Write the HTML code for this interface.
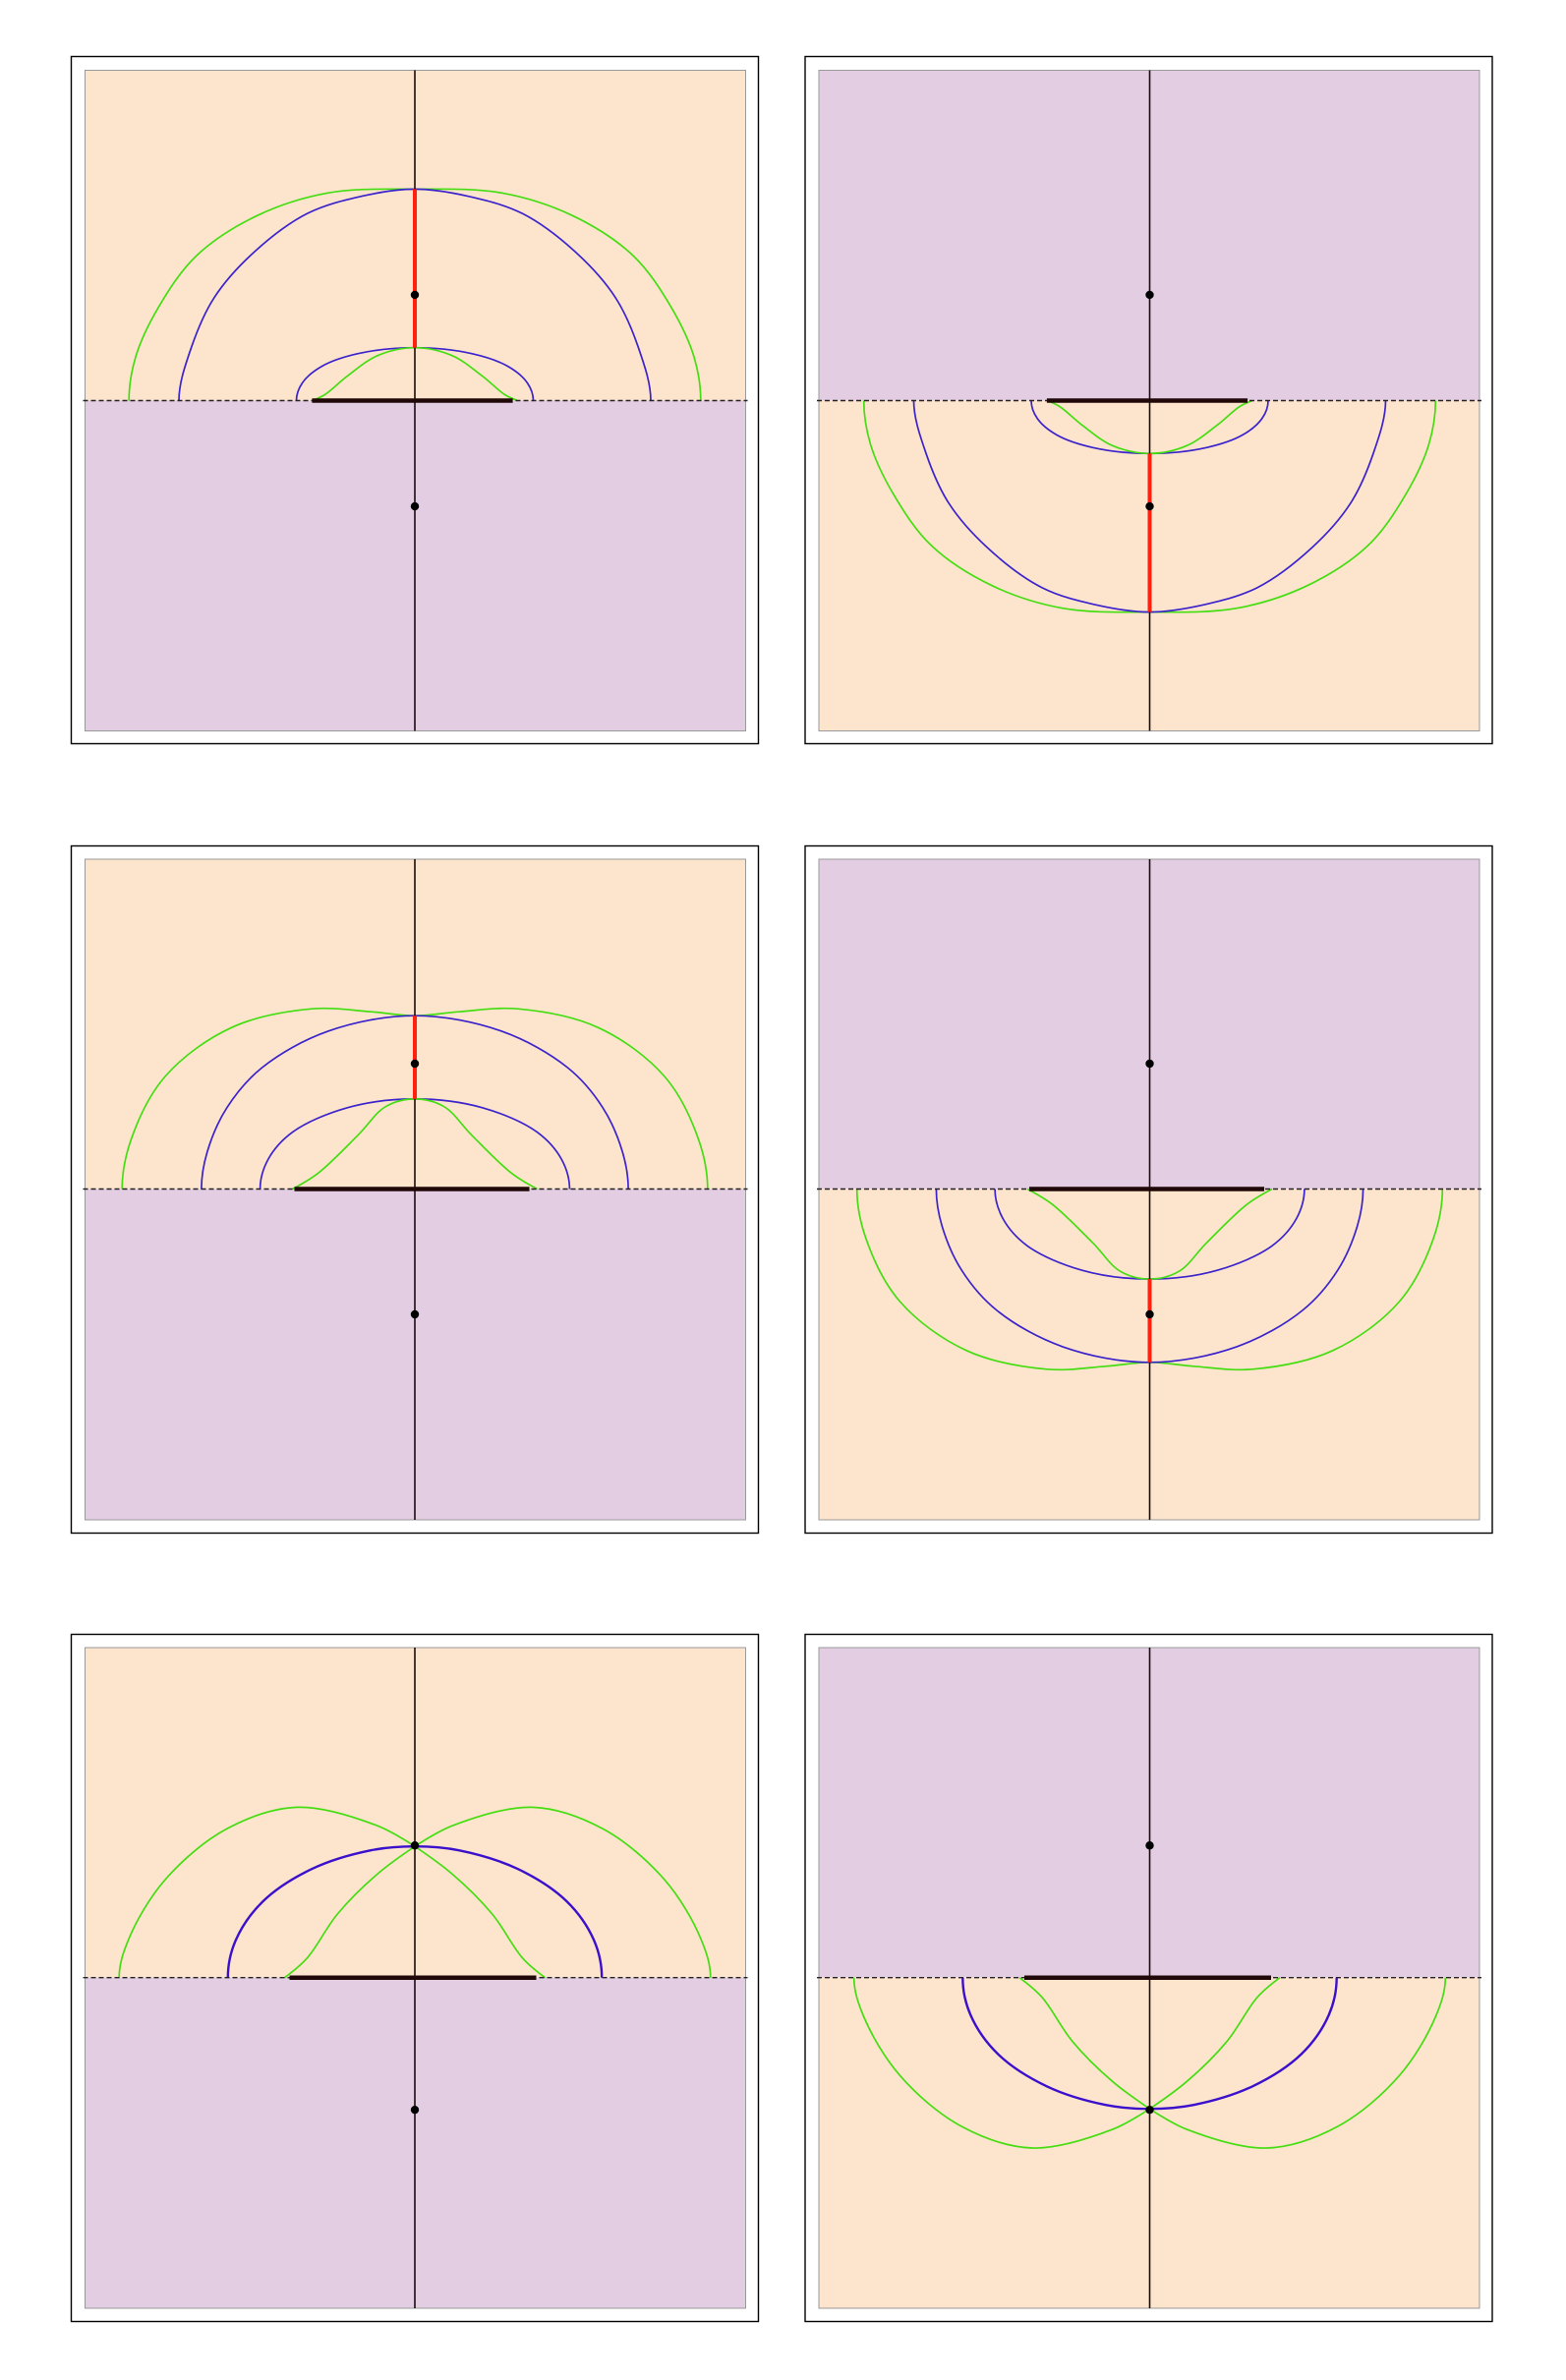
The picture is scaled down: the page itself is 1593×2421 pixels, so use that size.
<!DOCTYPE html>
<html><head><meta charset="utf-8"><title>Conformal map panels</title>
<style>
html,body{margin:0;padding:0;background:#fff;}
svg{display:block;font-family:"Liberation Sans",sans-serif;}
</style></head>
<body>
<svg id="fig" width="1593" height="2421" viewBox="0 0 1593 2421" xmlns="http://www.w3.org/2000/svg"></svg>
<script>
// Data (units: 1 unit ~ 100 px from panel center; half curves for x>=0, mirrored)
// Case A (row 1)
const aDot = 1.08;
const aRed = [0.54, 2.16];
const aSeg = [-1.05, 1.00];
const aOuterBlue = [[0,2.16],[0.53,2.09],[1.10,1.91],[1.66,1.50],[2.05,1.05],[2.28,0.55],[2.41,0]];
const aOuterGreen = [[0,2.16],[0.89,2.12],[1.61,1.89],[2.23,1.48],[2.62,0.95],[2.85,0.45],[2.92,0]];
const aInnerBlue = [[0,0.54],[0.58,0.48],[0.95,0.35],[1.15,0.18],[1.21,0]];
const aInnerGreen = [[0,0.54],[0.38,0.46],[0.69,0.25],[0.92,0.06],[1.05,0]];
// Case B (row 2)
const bDot = 1.28;
const bRed = [0.92, 1.77];
const bSeg = [-1.23, 1.17];
const bOuterBlue = [[0,1.77],[0.89,1.61],[1.56,1.24],[1.92,0.83],[2.12,0.38],[2.18,0]];
const bOuterGreen = [[0,1.77],[0.45,1.81],[1.05,1.84],[1.87,1.65],[2.55,1.15],[2.90,0.50],[2.99,0]];
const bInnerBlue = [[0,0.92],[0.69,0.83],[1.25,0.58],[1.50,0.30],[1.58,0]];
const bInnerGreen = [[0,0.92],[0.30,0.84],[0.58,0.55],[0.99,0.16],[1.25,0]];
// Case C (row 3)
const cDot = 1.35;
const cSeg = [-1.28, 1.24];
const cBlue = [[0,1.34],[0.45,1.30],[1.05,1.11],[1.55,0.78],[1.83,0.38],[1.91,0]];
const cOuterGreen = [[0,1.34],[0.38,1.55],[1.20,1.74],[1.92,1.52],[2.55,1.00],[2.92,0.40],[3.02,0]];
const cInnerGreen = [[0,1.34],[0.38,1.06],[0.79,0.65],[1.10,0.20],[1.33,0]];

const cases = {
  A:{dot:aDot, red:aRed, seg:aSeg, curves:[[aOuterGreen,'green',1,0],[aOuterBlue,'blue',1,0],[aInnerBlue,'blue',1,0],[aInnerGreen,'green',0,0]]},
  B:{dot:bDot, red:bRed, seg:bSeg, curves:[[bOuterGreen,'green',1,0],[bOuterBlue,'blue',1,0],[bInnerBlue,'blue',1,0],[bInnerGreen,'green',0,0]]},
  C:{dot:cDot, red:null, seg:cSeg, curves:[[cOuterGreen,'green',1,1],[cBlue,'blueThick',1,0],[cInnerGreen,'green',0,1]]}
};
const rows = [{fy:57.5, py:71.5, hy:407.5, key:'A'},{fy:860.5, py:874, hy:1209.5, key:'B'},{fy:1662.5, py:1676, hy:2011.7, key:'C'}];
const cols = [{fx:72.5, px:86.5, cx:422, flip:false},{fx:819, px:833, cx:1169.5, flip:true}];
const UNIT=99.6, FW=699, PW=672;
const PEACH='#fde5cd', PURPLE='#e3cde3';
const COL={green:'#44dd11', blue:'#3a22cc', blueThick:'#3a10cc'};
const NS='http://www.w3.org/2000/svg';
const svg=document.getElementById('fig');
function mk(tag, attrs, parent){const e=document.createElementNS(NS,tag);for(const k in attrs)e.setAttribute(k,attrs[k]);(parent||svg).appendChild(e);return e;}
function dist(a,b){return Math.sqrt(Math.hypot(a[0]-b[0],a[1]-b[1]))||1e-6;}
// centripetal Catmull-Rom; pts in pixel coords, phantom start/end points
function spline(pts, ph0, ph1){
  const P=[ph0].concat(pts,[ph1]);
  let d='M'+pts[0][0].toFixed(1)+','+pts[0][1].toFixed(1);
  for(let i=1;i<P.length-2;i++){
    const p0=P[i-1],p1=P[i],p2=P[i+1],p3=P[i+2];
    const d1=dist(p0,p1),d2=dist(p1,p2),d3=dist(p2,p3);
    const b1=[0,1].map(k=>(d1*d1*p2[k]-d2*d2*p0[k]+(2*d1*d1+3*d1*d2+d2*d2)*p1[k])/(3*d1*(d1+d2)));
    const b2=[0,1].map(k=>(d3*d3*p1[k]-d2*d2*p3[k]+(2*d3*d3+3*d3*d2+d2*d2)*p2[k])/(3*d3*(d3+d2)));
    d+=' C'+b1[0].toFixed(1)+','+b1[1].toFixed(1)+' '+b2[0].toFixed(1)+','+b2[1].toFixed(1)+' '+p2[0].toFixed(1)+','+p2[1].toFixed(1);
  }
  return d;
}
rows.forEach((r,ri)=>{cols.forEach((c,ci)=>{
  const cs=cases[r.key];
  const sign=c.flip?1:-1;
  const sx=x=>c.cx+x*UNIT;
  const sy=y=>r.hy+sign*y*UNIT;
  const g=mk('g',{});
  
  
  const fr=mk('rect',{x:c.fx,y:r.fy,width:FW,height:FW,fill:'#fff',stroke:'#000','stroke-width':1.4},g);
  
  
  const top=mk('rect',{x:c.px,y:r.py,width:PW,height:r.hy-r.py,fill:c.flip?PURPLE:PEACH},g);
  
  
  const bot=mk('rect',{x:c.px,y:r.hy,width:PW,height:r.py+PW-r.hy,fill:c.flip?PEACH:PURPLE},g);
  
  
  const pb=mk('rect',{x:c.px,y:r.py,width:PW,height:PW,fill:'none',stroke:'#999','stroke-width':1},g);
  
  
  cs.curves.forEach(([arr,kind,vertEnd,cusp],k)=>{
    const w=kind==='blueThick'?2.4:1.7;
    const n=arr.length;
    const endPh=(s)=>vertEnd?[sx(s*arr[n-2][0]),sy(-arr[n-2][1])]:[sx(s*arr[n-1][0]),sy(arr[n-1][1])];
    let ds=[];
    if(cusp){
      [1,-1].forEach(s=>{
        const pts=arr.map(p=>[sx(s*p[0]),sy(p[1])]);
        ds.push(spline(pts,pts[0],endPh(s)));
      });
    } else {
      const full=arr.slice().reverse().map(p=>[sx(-p[0]),sy(p[1])]).concat(arr.slice(1).map(p=>[sx(p[0]),sy(p[1])]));
      ds.push(spline(full,endPh(-1),endPh(1)));
    }
    ds.forEach((d,j)=>{
      const pa=mk('path',{d:d,fill:'none',stroke:COL[kind],'stroke-width':w,'stroke-linejoin':'round'},g);
      
      
    });
  });
  const ax=mk('line',{x1:c.cx,y1:r.py,x2:c.cx,y2:r.py+PW,stroke:'#1a0a0a','stroke-width':1.6},g);
  
  
  const hz=mk('line',{x1:c.px-2,y1:r.hy,x2:c.px+PW+2,y2:r.hy,stroke:'#222','stroke-width':1.4,'stroke-dasharray':'5,3'},g);
  
  
  const sg=mk('line',{x1:sx(cs.seg[0]),y1:r.hy,x2:sx(cs.seg[1]),y2:r.hy,stroke:'#200808','stroke-width':4.5},g);
  
  
  if(cs.red){
    const rd=mk('line',{x1:c.cx,y1:sy(cs.red[0]),x2:c.cx,y2:sy(cs.red[1]),stroke:'#ff2010','stroke-width':4},g);
    
    
  }
  [cs.dot,-cs.dot].forEach((v,i)=>{
    const dt=mk('circle',{cx:c.cx,cy:sy(v),r:4.2,fill:'#000'},g);
    
    
  });
});});
</script>
</body></html>
